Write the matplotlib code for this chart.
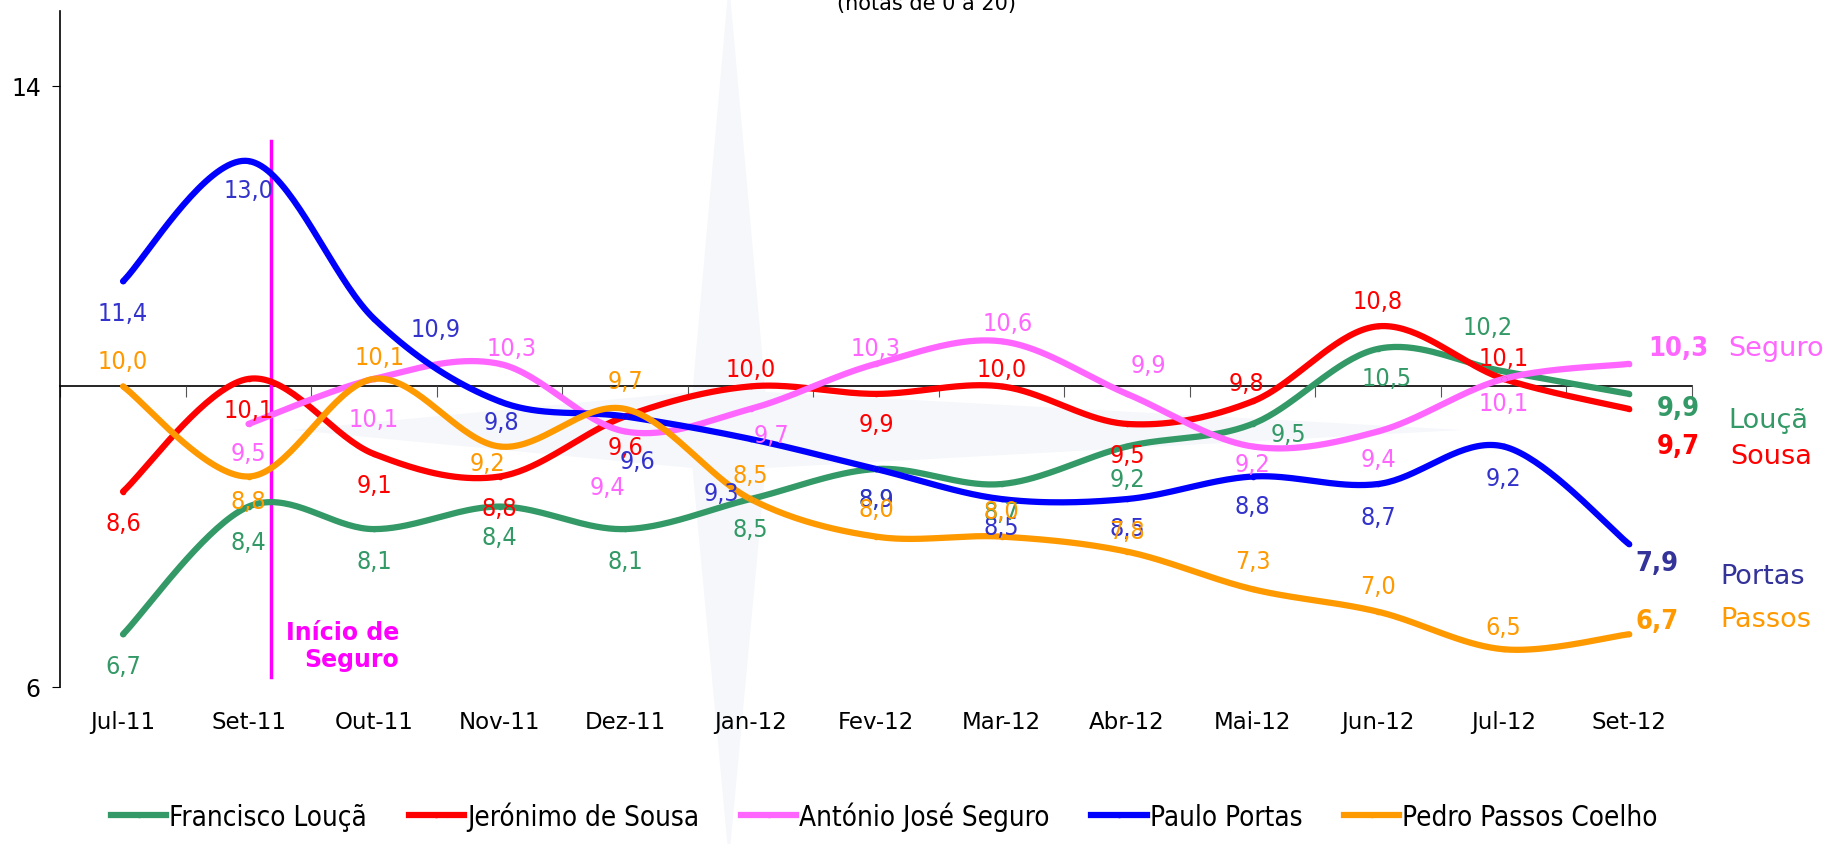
import matplotlib
matplotlib.use('Agg')
import matplotlib.pyplot as plt
from matplotlib.lines import Line2D
from matplotlib.patches import Polygon
from matplotlib import font_manager
import numpy as np

months = ['Jul-11', 'Set-11', 'Out-11', 'Nov-11', 'Dez-11', 'Jan-12', 'Fev-12',
          'Mar-12', 'Abr-12', 'Mai-12', 'Jun-12', 'Jul-12', 'Set-12']

louca = [6.7, 8.4, 8.1, 8.4, 8.1, 8.5, 8.9, 8.7, 9.2, 9.5, 10.5, 10.2, 9.9]
sousa = [8.6, 10.1, 9.1, 8.8, 9.6, 10.0, 9.9, 10.0, 9.5, 9.8, 10.8, 10.1, 9.7]
seguro = [np.nan, 9.5, 10.1, 10.3, 9.4, 9.7, 10.3, 10.6, 9.9, 9.2, 9.4, 10.1, 10.3]
portas = [11.4, 13.0, 10.9, 9.8, 9.6, 9.3, 8.9, 8.5, 8.5, 8.8, 8.7, 9.2, 7.9]
passos = [10.0, 8.8, 10.1, 9.2, 9.7, 8.5, 8.0, 8.0, 7.8, 7.3, 7.0, 6.5, 6.7]

legend_names = ['Francisco Louçã', 'Jerónimo de Sousa', 'António José Seguro',
                'Paulo Portas', 'Pedro Passos Coelho']
short_names = ['Louçã', 'Sousa', 'Seguro', 'Portas', 'Passos']

line_colors = ['#339966', '#ff0000', '#ff66ff', '#0000ff', '#ff9900']
label_colors = ['#339966', '#ff0000', '#ff66ff', '#3333cc', '#ff9900']
end_colors = ['#339966', '#ff0000', '#ff66ff', '#333399', '#ff9900']

# label offsets in screen px (dx, dy up), one per point
S = 0.84
offs = {
    0: [(0, -27), (0, -30), (0, -27), (0, -26), (0, -27), (0, -26), (0, -26),
        (0, -24), (0, -28), (31, -9), (7, -25), (-14, 38), (42, -12)],
    1: [(0, -27), (0, -27), (0, -27), (0, -27), (0, -26), (0, 15), (0, -26),
        (0, 15), (0, -27), (-5, 16), (0, 22), (0, 18), (42, -32)],
    2: [None, (0, -25), (0, -34), (10, 14), (-15, -48), (18, -22), (0, 14),
        (5, 16), (18, 25), (0, -15), (0, -24), (0, -21), (42, 14)],
    3: [(0, -27), (0, -25), (53, -9), (2, -18), (11, -38), (-25, -46), (0, -26),
        (0, -24), (0, -25), (0, -25), (0, -28), (0, -27), (24, -16)],
    4: [(0, 22), (0, -21), (5, 19), (-10, -14), (0, 24), (0, 21), (0, 24),
        (0, 22), (0, 18), (0, 24), (0, 22), (0, 19), (24, 11)],
}
name_offs = [(85, -22), (87, -40), (85, 14), (78, -27), (78, 13)]


def smooth(xs, ys, n=40):
    # Excel-like smoothed line (bezier through the points)
    pts = np.column_stack([xs, ys])
    P = np.vstack([pts[0], pts, pts[-1]])
    out = []
    t = np.linspace(0, 1, n)[:, None]
    for i in range(1, len(P) - 2):
        p0, p1, p2, p3 = P[i - 1], P[i], P[i + 1], P[i + 2]
        c1 = p1 + (p2 - p0) / 6
        c2 = p2 - (p3 - p1) / 6
        seg = ((1 - t) ** 3) * p1 + 3 * ((1 - t) ** 2) * t * c1 \
            + 3 * (1 - t) * t ** 2 * c2 + t ** 3 * p2
        out.append(seg)
    out = np.vstack(out)
    return out[:, 0], out[:, 1]


def main():
    plt.rcParams['font.family'] = ['DejaVu Sans']

    fig = plt.figure(figsize=(18.27, 8.45), dpi=100)

    # faint compass watermark behind the chart
    cx, cy = 0.399, 0.49
    star = [(cx, 1.02), (cx + 0.02, cy + 0.045), (0.80, cy),
            (cx + 0.02, cy - 0.045), (cx, -0.02), (cx - 0.02, cy - 0.045),
            (0.16, cy), (cx - 0.02, cy + 0.045)]
    fig.patches.append(Polygon(star, closed=True, transform=fig.transFigure,
                               facecolor='#f5f7fb', edgecolor='none',
                               zorder=-5))

    ax = fig.add_axes([0.033, 0.186, 0.893, 0.80])
    ax.patch.set_alpha(0)

    series = [louca, sousa, seguro, portas, passos]
    x = np.arange(len(months))
    for k, vals in enumerate(series):
        v = np.array(vals, dtype=float)
        ok = ~np.isnan(v)
        sx, sy = smooth(x[ok], v[ok])
        ax.plot(sx, sy, color=line_colors[k], lw=4.5, solid_capstyle='round',
                zorder=3)
        ax.plot(x[ok], v[ok], 'o', color=line_colors[k], ms=3, zorder=4)
        for i in range(len(months)):
            if not ok[i]:
                continue
            dx, dy = offs[k][i]
            txt = f'{v[i]:.1f}'.replace('.', ',')
            last = i == len(months) - 1
            ax.annotate(txt, (x[i], v[i]), xytext=(dx * S, dy * S),
                        textcoords='offset points', ha='center', va='center',
                        color=end_colors[k] if last else label_colors[k],
                        fontsize=19.5 if last else 18,
                        fontweight='bold' if last else 'normal',
                        family='DejaVu Sans', fontstretch='condensed',
                        zorder=5, annotation_clip=False)
        dx, dy = name_offs[k]
        ax.annotate(short_names[k], (x[-1], v[-1]), xytext=(dx * S, dy * S),
                    textcoords='offset points', ha='left', va='center',
                    color=end_colors[k], fontsize=19.5, annotation_clip=False)

    # start of Seguro marker
    ax.plot([1.18, 1.18], [6.13, 13.27], color='#ff00ff', lw=2.5, zorder=2)
    ax.text(2.2, 6.55, 'Início de\nSeguro', color='#ff00ff', fontsize=17,
            fontweight='bold', ha='right', va='center', linespacing=1.2)

    ax.set_xlim(-0.5, 12.5)
    ax.set_ylim(6, 15)
    ax.set_yticks([6, 14])
    ax.set_yticklabels(['6', '14'])
    ax.tick_params(axis='y', direction='out', length=6, labelsize=17, pad=8)

    for s in ['top', 'right']:
        ax.spines[s].set_visible(False)
    ax.spines['left'].set_linewidth(1.2)
    ax.spines['bottom'].set_position(('data', 10))
    ax.spines['bottom'].set_linewidth(1.2)
    ax.spines['bottom'].set_zorder(1)
    ax.set_xticks(np.arange(-0.5, 13, 1))
    ax.set_xticklabels([])
    ax.tick_params(axis='x', direction='out', length=8, color='#555555')

    sec = ax.secondary_xaxis(0.0)
    sec.set_xticks(x)
    sec.set_xticklabels(months)
    sec.tick_params(length=0, labelsize=16.5, pad=17)
    sec.spines['bottom'].set_visible(False)

    fig.text(0.507, 0.988, '(notas de 0 a 20)', ha='center', va='baseline',
             fontsize=15)

    handles = [Line2D([0], [0], color=c, lw=4.5, marker='o', ms=3)
               for c in line_colors]
    fig.legend(handles, legend_names, loc='lower center',
               bbox_to_anchor=(0.484, -0.014), ncol=5, frameon=False,
               prop=font_manager.FontProperties(family='DejaVu Sans',
                                                 stretch='condensed', size=20),
               handlelength=2.0, handletextpad=0.1, columnspacing=1.5)

    plt.savefig('out.png', dpi=100)


if __name__ == "__main__":
    main()
